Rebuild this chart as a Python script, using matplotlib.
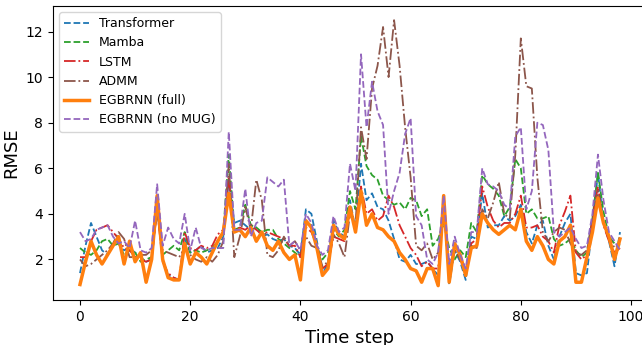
import numpy as np
import matplotlib
matplotlib.use('Agg')
import matplotlib.pyplot as plt

steps = np.arange(99)

transformer = [1.4, 2.6, 3.6, 3.0, 2.4, 2.2, 2.6, 2.8, 2.4, 2.5, 2.3, 2.1, 1.9, 2.0, 4.3, 2.0, 1.3, 1.2, 1.1, 2.9,
               2.3, 2.4, 2.6, 2.3, 2.4, 2.5, 3.0, 5.5, 3.6, 3.7, 3.5, 3.3, 3.4, 3.0, 3.1, 2.9, 2.8, 2.9, 2.6, 2.5,
               2.2, 4.2, 4.0, 2.8, 1.4, 1.8, 3.7, 3.2, 3.0, 4.6, 3.3, 6.2, 4.6, 4.9, 4.3, 4.2, 3.7, 2.9, 2.0, 1.9,
               2.2, 1.8, 1.8, 1.9, 1.6, 1.3, 4.7, 0.9, 2.4, 1.9, 1.1, 3.0, 2.9, 4.9, 3.4, 3.5, 3.5, 3.9, 3.7, 3.9,
               4.4, 3.2, 2.7, 3.5, 3.7, 2.6, 2.0, 3.0, 3.6, 4.0, 1.4, 1.3, 1.4, 3.5, 5.8, 3.6, 2.8, 1.7, 3.2]
mamba = [2.5, 2.3, 2.2, 2.4, 2.8, 2.9, 2.6, 2.7, 2.2, 2.4, 2.3, 1.9, 2.0, 2.1, 4.6, 2.2, 2.4, 2.6, 2.4, 3.2,
         2.3, 2.4, 2.3, 2.4, 2.5, 2.8, 3.2, 6.6, 3.3, 3.4, 4.4, 3.5, 3.4, 3.2, 3.3, 3.3, 2.9, 2.7, 2.5, 2.3,
         2.1, 3.6, 3.5, 2.5, 2.0, 2.3, 3.3, 3.0, 3.3, 5.0, 4.2, 7.4, 6.1, 5.7, 5.5, 4.8, 4.6, 4.4, 4.5, 4.2,
         4.7, 4.6, 3.9, 4.2, 2.6, 2.9, 3.6, 2.5, 2.0, 2.4, 2.1, 3.6, 3.2, 5.7, 5.3, 5.1, 4.8, 3.9, 4.3, 6.4,
         6.0, 4.0, 4.2, 3.8, 3.8, 3.9, 2.9, 2.6, 2.7, 2.9, 2.4, 2.1, 2.3, 3.8, 5.8, 4.1, 3.0, 2.7, 2.6]
lstm = [2.1, 2.1, 2.8, 3.3, 3.4, 3.5, 3.2, 2.9, 2.5, 2.4, 2.1, 2.0, 1.9, 2.0, 4.2, 1.9, 1.4, 1.2, 1.1, 3.2,
        2.5, 2.4, 2.6, 2.5, 2.6, 3.1, 3.3, 5.6, 3.2, 3.4, 3.3, 3.5, 3.3, 3.1, 3.2, 3.1, 3.0, 2.9, 2.6, 2.6,
        2.1, 3.4, 3.2, 2.6, 1.6, 1.8, 3.0, 2.9, 2.8, 4.2, 3.4, 5.2, 4.0, 4.2, 3.7, 3.9, 4.8, 4.3, 3.5, 3.0,
        2.5, 2.2, 1.7, 1.9, 1.6, 1.6, 4.5, 1.2, 2.4, 2.0, 1.4, 2.7, 2.9, 5.2, 4.3, 3.7, 3.4, 3.6, 3.6, 4.0,
        4.8, 3.4, 3.4, 3.5, 3.0, 2.8, 2.3, 3.5, 4.1, 4.8, 2.3, 2.0, 2.2, 3.8, 5.2, 3.5, 2.8, 2.3, 2.5]
admm = [2.0, 1.7, 1.8, 2.0, 2.2, 2.4, 2.7, 3.2, 2.9, 2.1, 2.1, 2.2, 2.2, 2.4, 4.1, 2.4, 2.3, 2.2, 2.1, 2.5,
        2.2, 2.0, 1.9, 2.1, 1.9, 2.2, 2.8, 6.2, 2.1, 3.0, 4.3, 3.3, 5.5, 4.6, 2.2, 2.1, 2.4, 3.0, 2.6, 2.8,
        2.4, 3.0, 2.6, 2.5, 1.7, 1.9, 3.1, 2.7, 2.1, 4.0, 3.5, 7.8, 6.4, 9.5, 10.5, 12.2, 10.0, 12.5, 10.5, 7.8,
        5.6, 2.6, 2.4, 2.7, 2.0, 2.3, 4.2, 1.5, 2.4, 2.0, 1.6, 2.6, 2.5, 4.2, 3.8, 4.5, 5.4, 4.0, 3.8, 6.6,
        11.7, 9.6, 9.5, 5.6, 3.2, 2.8, 3.2, 3.4, 3.3, 2.7, 2.3, 2.2, 2.4, 3.7, 5.0, 3.6, 3.0, 2.5, 2.7]
egbrnn_full = [0.9, 1.9, 2.8, 2.2, 1.8, 2.2, 2.6, 3.0, 1.8, 2.8, 1.9, 2.3, 1.0, 2.0, 4.8, 2.0, 1.2, 1.1, 1.1, 2.7,
               1.8, 2.3, 2.1, 1.8, 2.3, 2.8, 3.2, 4.9, 3.2, 3.3, 3.0, 3.4, 2.8, 3.2, 2.6, 2.4, 2.8, 2.3, 2.0, 2.2,
               1.1, 3.7, 3.4, 2.5, 1.3, 1.6, 3.5, 3.1, 2.9, 4.3, 3.2, 5.0, 3.5, 4.0, 3.4, 3.3, 3.0, 2.8, 2.3, 2.0,
               1.6, 1.5, 1.0, 1.6, 1.6, 0.85, 4.8, 1.0, 2.7, 2.2, 1.3, 2.5, 2.6, 4.0, 3.6, 3.3, 3.1, 3.3, 3.5, 3.3,
               4.2, 2.8, 2.4, 3.0, 2.6, 2.0, 1.8, 2.8, 3.0, 3.5, 1.0, 1.0, 2.1, 3.2, 4.7, 3.6, 3.0, 2.0, 2.9]
egbrnn_nomug = [3.2, 2.8, 2.9, 3.3, 3.4, 3.5, 3.0, 2.7, 2.8, 2.5, 3.7, 2.4, 2.3, 2.5, 5.3, 2.6, 3.4, 2.9, 2.7, 4.0,
                2.4, 3.4, 2.5, 2.4, 2.5, 2.5, 2.5, 7.6, 3.3, 3.3, 5.1, 3.0, 3.6, 3.7, 5.6, 5.4, 5.2, 5.5, 2.6, 2.8,
                2.4, 4.0, 3.6, 2.6, 2.2, 2.4, 3.9, 3.2, 3.4, 6.2, 5.0, 11.0, 7.8, 9.8, 8.5, 7.9, 4.0, 5.0, 5.8, 7.5,
                8.2, 3.9, 3.5, 2.0, 1.8, 2.3, 4.8, 1.8, 3.0, 2.2, 1.6, 3.2, 3.2, 6.0, 5.3, 5.2, 5.0, 4.4, 4.2, 7.4,
                7.8, 4.2, 5.0, 8.0, 7.9, 6.8, 3.2, 3.0, 3.2, 3.4, 2.9, 2.5, 2.6, 4.0, 6.6, 4.6, 3.2, 2.8, 2.4]

fig = plt.figure(figsize=(6.42, 3.45), dpi=100)
ax = fig.add_axes([53/642, 45/345, 594/642, 294/345])

ax.plot(steps, transformer, '--', color='tab:blue', lw=1.3, label='Transformer')
ax.plot(steps, mamba, '--', color='tab:green', lw=1.3, label='Mamba')
ax.plot(steps, lstm, '-.', color='tab:red', lw=1.3, label='LSTM')
ax.plot(steps, admm, '-.', color='tab:brown', lw=1.3, label='ADMM')
ax.plot(steps, egbrnn_full, '-', color='tab:orange', lw=2.5, label='EGBRNN (full)')
ax.plot(steps, egbrnn_nomug, '--', color='tab:purple', lw=1.3, label='EGBRNN (no MUG)')

ax.set_xlim(-4.9, 102.9)
ax.set_ylim(0.22, 13.12)
ax.set_yticks([2, 4, 6, 8, 10, 12])
ax.tick_params(labelsize=10)
ax.set_xlabel('Time step', fontsize=13)
ax.set_ylabel('RMSE', fontsize=13)
ax.legend(loc='upper left', fontsize=9)

fig.savefig('out.png', dpi=100)
plt.close()
